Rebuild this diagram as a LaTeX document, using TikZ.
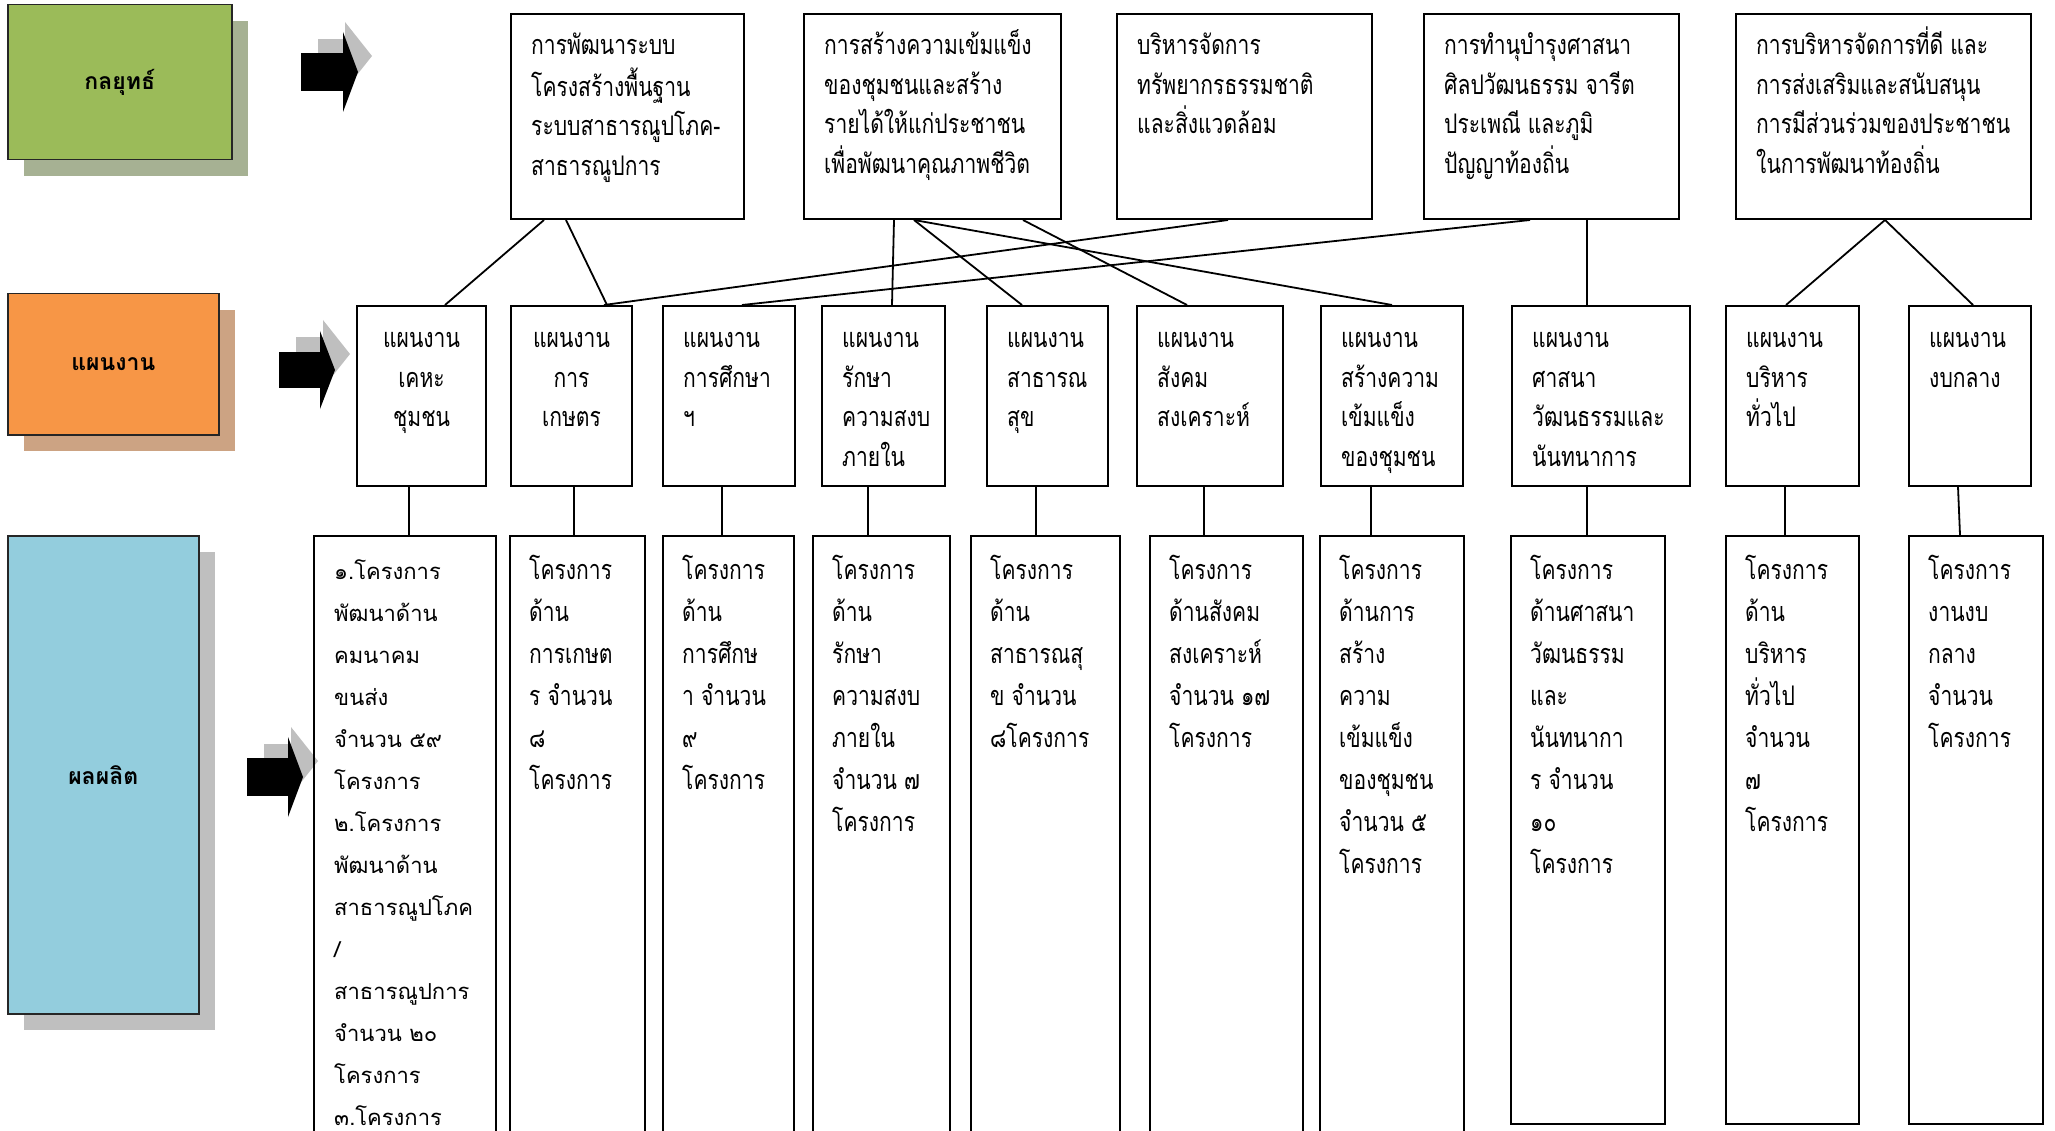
\documentclass[tikz,border=0pt]{standalone}
\usepackage{fontspec}
\newfontfamily\thaifont[Script=Thai]{Loma}
\newfontfamily\thainarrow[Script=Thai,FakeStretch=0.78]{Loma}
\usetikzlibrary{shadows}
\definecolor{stratgreen}{RGB}{155,187,89}
\definecolor{stratshade}{RGB}{166,177,147}
\definecolor{planorange}{RGB}{247,150,70}
\definecolor{planshade}{RGB}{204,163,131}
\definecolor{outblue}{RGB}{147,205,221}
\definecolor{outshade}{RGB}{191,191,191}
\definecolor{arrowgray}{RGB}{191,191,191}
\tikzset{
  lbl/.style={draw=black!85, line width=1.5pt, anchor=north west, inner sep=0pt,
    font=\thaifont\bfseries\fontsize{23}{27}\selectfont},
  box/.style={draw, line width=2pt, anchor=north west, inner sep=0pt},
  toptxt/.style={anchor=north west, inner sep=0pt, align=left,
    font=\thainarrow\fontsize{27}{39.5}\selectfont},
  midtxt/.style={anchor=north west, inner sep=0pt, align=left,
    font=\thainarrow\fontsize{27}{39.5}\selectfont},
  bottxt/.style={anchor=north west, inner sep=0pt, align=left,
    font=\thainarrow\fontsize{27}{42}\selectfont},
  link/.style={line width=1.8pt}
}
\begin{document}
\begin{tikzpicture}[x=1pt,y=-1pt]
\useasboundingbox (0,0) rectangle (2055,1131);
\clip (0,0) rectangle (2055,1131);
\node[lbl, fill=stratgreen, minimum width=224pt, minimum height=155pt,
  drop shadow={shadow xshift=16pt, shadow yshift=-16pt, fill=stratshade, opacity=1}] (strategy) at (7,4) {กลยุทธ์};
\node[lbl, fill=planorange, minimum width=211pt, minimum height=141pt,
  drop shadow={shadow xshift=16pt, shadow yshift=-16pt, fill=planshade, opacity=1}] (plan) at (7,293) {แผนงาน};
\node[lbl, fill=outblue, minimum width=191pt, minimum height=478pt,
  drop shadow={shadow xshift=16pt, shadow yshift=-16pt, fill=outshade, opacity=1}] (output) at (7,535) {ผลผลิต};
\fill[arrowgray] (318,39) rectangle (345,72);
\fill[arrowgray] (345,22) -- (372,56) -- (345,90) -- cycle;
\fill (301,53) rectangle (343,91);
\fill (343,32) -- (358,72) -- (343,112) -- cycle;
\fill[arrowgray] (296,337) rectangle (323,370);
\fill[arrowgray] (323,320) -- (350,354) -- (323,388) -- cycle;
\fill (279,352) rectangle (320,388);
\fill (320,331) -- (335,370) -- (320,409) -- cycle;
\fill[arrowgray] (264,744) rectangle (291,777);
\fill[arrowgray] (291,727) -- (318,761) -- (291,795) -- cycle;
\fill (247,758) rectangle (288,796);
\fill (288,737) -- (303,777) -- (288,817) -- cycle;
\node[box, minimum width=233pt, minimum height=205pt] (t1) at (510,13) {};
\node[box, minimum width=257pt, minimum height=205pt] (t2) at (803,13) {};
\node[box, minimum width=255pt, minimum height=205pt] (t3) at (1116,13) {};
\node[box, minimum width=255pt, minimum height=205pt] (t4) at (1423,13) {};
\node[box, minimum width=295pt, minimum height=205pt] (t5) at (1735,13) {};
\node[toptxt] (t1x) at ([shift={(21,14)}]t1.north west) {\strut การพัฒนาระบบ\\โครงสร้างพื้นฐาน\\ระบบสาธารณูปโภค-\\สาธารณูปการ};
\node[toptxt] (t2x) at ([shift={(21,14)}]t2.north west) {\strut การสร้างความเข้มแข็ง\\ของชุมชนและสร้าง\\รายได้ให้แก่ประชาชน\\เพื่อพัฒนาคุณภาพชีวิต};
\node[toptxt] (t3x) at ([shift={(21,14)}]t3.north west) {\strut บริหารจัดการ\\ทรัพยากรธรรมชาติ\\และสิ่งแวดล้อม};
\node[toptxt] (t4x) at ([shift={(21,14)}]t4.north west) {\strut การทำนุบำรุงศาสนา\\ศิลปวัฒนธรรม จารีต\\ประเพณี และภูมิ\\ปัญญาท้องถิ่น};
\node[toptxt] (t5x) at ([shift={(21,14)}]t5.north west) {\strut การบริหารจัดการที่ดี และ\\การส่งเสริมและสนับสนุน\\การมีส่วนร่วมของประชาชน\\ในการพัฒนาท้องถิ่น};
\node[box, minimum width=129pt, minimum height=180pt] (m1) at (356,305) {};
\node[box, minimum width=121pt, minimum height=180pt] (m2) at (510,305) {};
\node[box, minimum width=132pt, minimum height=180pt] (m3) at (662,305) {};
\node[box, minimum width=123pt, minimum height=180pt] (m4) at (821,305) {};
\node[box, minimum width=121pt, minimum height=180pt] (m5) at (986,305) {};
\node[box, minimum width=146pt, minimum height=180pt] (m6) at (1136,305) {};
\node[box, minimum width=142pt, minimum height=180pt] (m7) at (1320,305) {};
\node[box, minimum width=178pt, minimum height=180pt] (m8) at (1511,305) {};
\node[box, minimum width=133pt, minimum height=180pt] (m9) at (1725,305) {};
\node[box, minimum width=122pt, minimum height=180pt] (m10) at (1908,305) {};
\node[midtxt, anchor=north, align=center] (m1x) at ([yshift=-15]m1.north) {\strut แผนงาน\\เคหะ\\ชุมชน};
\node[midtxt, anchor=north, align=center] (m2x) at ([yshift=-15]m2.north) {\strut แผนงาน\\การ\\เกษตร};
\node[midtxt] (m3x) at ([shift={(21,15)}]m3.north west) {\strut แผนงาน\\การศึกษา\\ฯ};
\node[midtxt] (m4x) at ([shift={(21,15)}]m4.north west) {\strut แผนงาน\\รักษา\\ความสงบ\\ภายใน};
\node[midtxt] (m5x) at ([shift={(21,15)}]m5.north west) {\strut แผนงาน\\สาธารณ\\สุข};
\node[midtxt] (m6x) at ([shift={(21,15)}]m6.north west) {\strut แผนงาน\\สังคม\\สงเคราะห์};
\node[midtxt] (m7x) at ([shift={(21,15)}]m7.north west) {\strut แผนงาน\\สร้างความ\\เข้มแข็ง\\ของชุมชน};
\node[midtxt] (m8x) at ([shift={(21,15)}]m8.north west) {\strut แผนงาน\\ศาสนา\\วัฒนธรรมและ\\นันทนาการ};
\node[midtxt] (m9x) at ([shift={(21,15)}]m9.north west) {\strut แผนงาน\\บริหาร\\ทั่วไป};
\node[midtxt] (m10x) at ([shift={(21,15)}]m10.north west) {\strut แผนงาน\\งบกลาง};
\node[box, minimum width=182pt, minimum height=620pt] (b1) at (313,535) {};
\node[box, minimum width=135pt, minimum height=620pt] (b2) at (509,535) {};
\node[box, minimum width=131pt, minimum height=620pt] (b3) at (662,535) {};
\node[box, minimum width=137pt, minimum height=620pt] (b4) at (812,535) {};
\node[box, minimum width=149pt, minimum height=620pt] (b5) at (970,535) {};
\node[box, minimum width=153pt, minimum height=620pt] (b6) at (1149,535) {};
\node[box, minimum width=144pt, minimum height=620pt] (b7) at (1319,535) {};
\node[box, minimum width=154pt, minimum height=588pt] (b8) at (1510,535) {};
\node[box, minimum width=133pt, minimum height=588pt] (b9) at (1725,535) {};
\node[box, minimum width=134pt, minimum height=588pt] (b10) at (1908,535) {};
\node[bottxt, font=\thaifont\fontsize{22}{42}\selectfont] (b1x) at ([shift={(21,15)}]b1.north west) {\strut ๑.โครงการ\\พัฒนาด้าน\\คมนาคม\\ขนส่ง\\จำนวน ๕๙\\โครงการ\\๒.โครงการ\\พัฒนาด้าน\\สาธารณูปโภค\\/\\สาธารณูปการ\\จำนวน ๒๐\\โครงการ\\๓.โครงการ};
\node[bottxt] (b2x) at ([shift={(20,15)}]b2.north west) {\strut โครงการ\\ด้าน\\การเกษต\\ร จำนวน\\๘\\โครงการ};
\node[bottxt] (b3x) at ([shift={(20,15)}]b3.north west) {\strut โครงการ\\ด้าน\\การศึกษ\\า จำนวน\\๙\\โครงการ};
\node[bottxt] (b4x) at ([shift={(20,15)}]b4.north west) {\strut โครงการ\\ด้าน\\รักษา\\ความสงบ\\ภายใน\\จำนวน ๗\\โครงการ};
\node[bottxt] (b5x) at ([shift={(20,15)}]b5.north west) {\strut โครงการ\\ด้าน\\สาธารณสุ\\ข จำนวน\\๘โครงการ};
\node[bottxt] (b6x) at ([shift={(20,15)}]b6.north west) {\strut โครงการ\\ด้านสังคม\\สงเคราะห์\\จำนวน ๑๗\\โครงการ};
\node[bottxt] (b7x) at ([shift={(20,15)}]b7.north west) {\strut โครงการ\\ด้านการ\\สร้าง\\ความ\\เข้มแข็ง\\ของชุมชน\\จำนวน ๕\\โครงการ};
\node[bottxt] (b8x) at ([shift={(20,15)}]b8.north west) {\strut โครงการ\\ด้านศาสนา\\วัฒนธรรม\\และ\\นันทนากา\\ร จำนวน\\๑๐\\โครงการ};
\node[bottxt] (b9x) at ([shift={(20,15)}]b9.north west) {\strut โครงการ\\ด้าน\\บริหาร\\ทั่วไป\\จำนวน\\๗\\โครงการ};
\node[bottxt] (b10x) at ([shift={(20,15)}]b10.north west) {\strut โครงการ\\งานงบ\\กลาง\\จำนวน\\โครงการ};
\draw[link] ([xshift=34]t1.south west) -- ([xshift=89]m1.north west);
\draw[link] ([xshift=56]t1.south west) -- ([xshift=97]m2.north west);
\draw[link] ([xshift=91]t2.south west) -- ([xshift=71]m4.north west);
\draw[link] ([xshift=111]t2.south west) -- ([xshift=36]m5.north west);
\draw[link] ([xshift=111]t2.south west) -- ([xshift=72]m7.north west);
\draw[link] ([xshift=220]t2.south west) -- ([xshift=51]m6.north west);
\draw[link] ([xshift=112]t3.south west) -- ([xshift=94]m2.north west);
\draw[link] ([xshift=107]t4.south west) -- ([xshift=80]m3.north west);
\draw[link] ([xshift=164]t4.south west) -- ([xshift=76]m8.north west);
\draw[link] ([xshift=150]t5.south west) -- ([xshift=61]m9.north west);
\draw[link] ([xshift=150]t5.south west) -- ([xshift=65]m10.north west);
\draw[link] ([xshift=53]m1.south west) -- ([xshift=53]m1.south west |- b1.north);
\draw[link] ([xshift=64]m2.south west) -- ([xshift=64]m2.south west |- b2.north);
\draw[link] ([xshift=60]m3.south west) -- ([xshift=60]m3.south west |- b3.north);
\draw[link] ([xshift=47]m4.south west) -- ([xshift=47]m4.south west |- b4.north);
\draw[link] ([xshift=50]m5.south west) -- ([xshift=50]m5.south west |- b5.north);
\draw[link] ([xshift=68]m6.south west) -- ([xshift=68]m6.south west |- b6.north);
\draw[link] ([xshift=51]m7.south west) -- ([xshift=51]m7.south west |- b7.north);
\draw[link] ([xshift=76]m8.south west) -- ([xshift=76]m8.south west |- b8.north);
\draw[link] ([xshift=60]m9.south west) -- ([xshift=60]m9.south west |- b9.north);
\draw[link] ([xshift=50]m10.south west) -- ([xshift=52]b10.north west);
\end{tikzpicture}
\end{document}
